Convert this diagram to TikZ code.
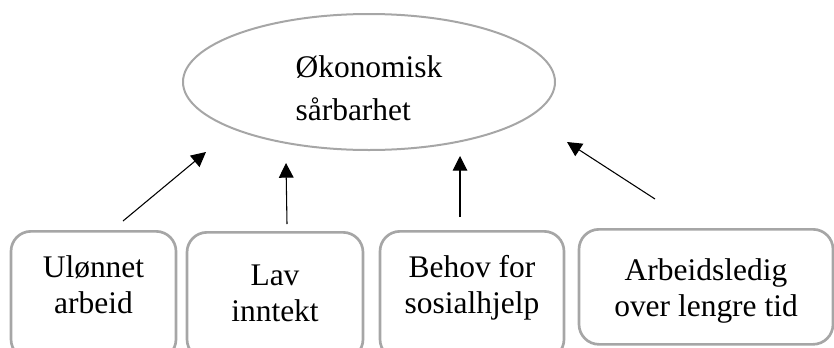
\documentclass[tikz,border=0pt]{standalone}
\usepackage{fontspec}
\setmainfont{Liberation Serif}
\usetikzlibrary{arrows.meta,shapes.geometric}
\definecolor{framegray}{RGB}{166,166,166}

\begin{document}
\begin{tikzpicture}[x=0.75pt,y=-0.75pt]
  \tikzset{EllipseStyle/.style = {
    shape         = ellipse,
    draw          = framegray,
    line width    = 1.5pt,
    text          = black,
    inner ysep    = 0pt,
    minimum width = 279pt,
    minimum height= 102pt,
    align         = left,
    font          = \fontsize{23.6pt}{32.25pt}\selectfont,
    text height   = 61.5pt,
    text depth    = 4.5pt
    }
  }
  \tikzset{BoxStyle/.style = {
    shape         = rectangle,
    rounded corners = 15pt,
    draw          = framegray,
    line width    = 2pt,
    text          = black,
    inner ysep    = 0pt,
    anchor        = north,
    align         = center,
    font          = \fontsize{23.6pt}{27pt}\selectfont
    }
  }
  \tikzset{ArrowStyle/.style = {
    draw          = black,
    line width    = 0.8pt,
    -{Triangle[length=11pt,width=11pt]}
    }
  }

  \useasboundingbox (0,0) rectangle (834,347);
  \clip (0,0) rectangle (834,347);

	\node[EllipseStyle](A1) at (369,82) {Økonomisk\\sårbarhet};
	\node[BoxStyle, minimum width=123.75pt, text height=61.5pt, text depth=34.5pt](B1) at (93.5,230) {Ulønnet\\arbeid};
	\node[BoxStyle, minimum width=132pt, text height=66.75pt, text depth=28.5pt](B2) at (275,231) {Lav\\inntekt};
	\node[BoxStyle, minimum width=138pt, text height=61.5pt, text depth=34.5pt](B3) at (472,230) {Behov for\\sosialhjelp};
	\node[BoxStyle, minimum width=190.5pt, text height=65.25pt, text depth=21pt](B4) at (706,228) {Arbeidsledig\\over lengre tid};
	\coordinate (S1) at (123,221);
	\coordinate (T1) at (206,152);
	\coordinate (S2) at (287,224);
	\coordinate (T2) at (286,163);
	\coordinate (S3) at (460,217);
	\coordinate (T3) at (460,156);
	\coordinate (S4) at (655,199);
	\coordinate (T4) at (567,142);
	\draw[ArrowStyle](S1) -- (T1);
	\draw[ArrowStyle](S2) -- (T2);
	\draw[ArrowStyle](S3) -- (T3);
	\draw[ArrowStyle](S4) -- (T4);

\end{tikzpicture}
\end{document}
